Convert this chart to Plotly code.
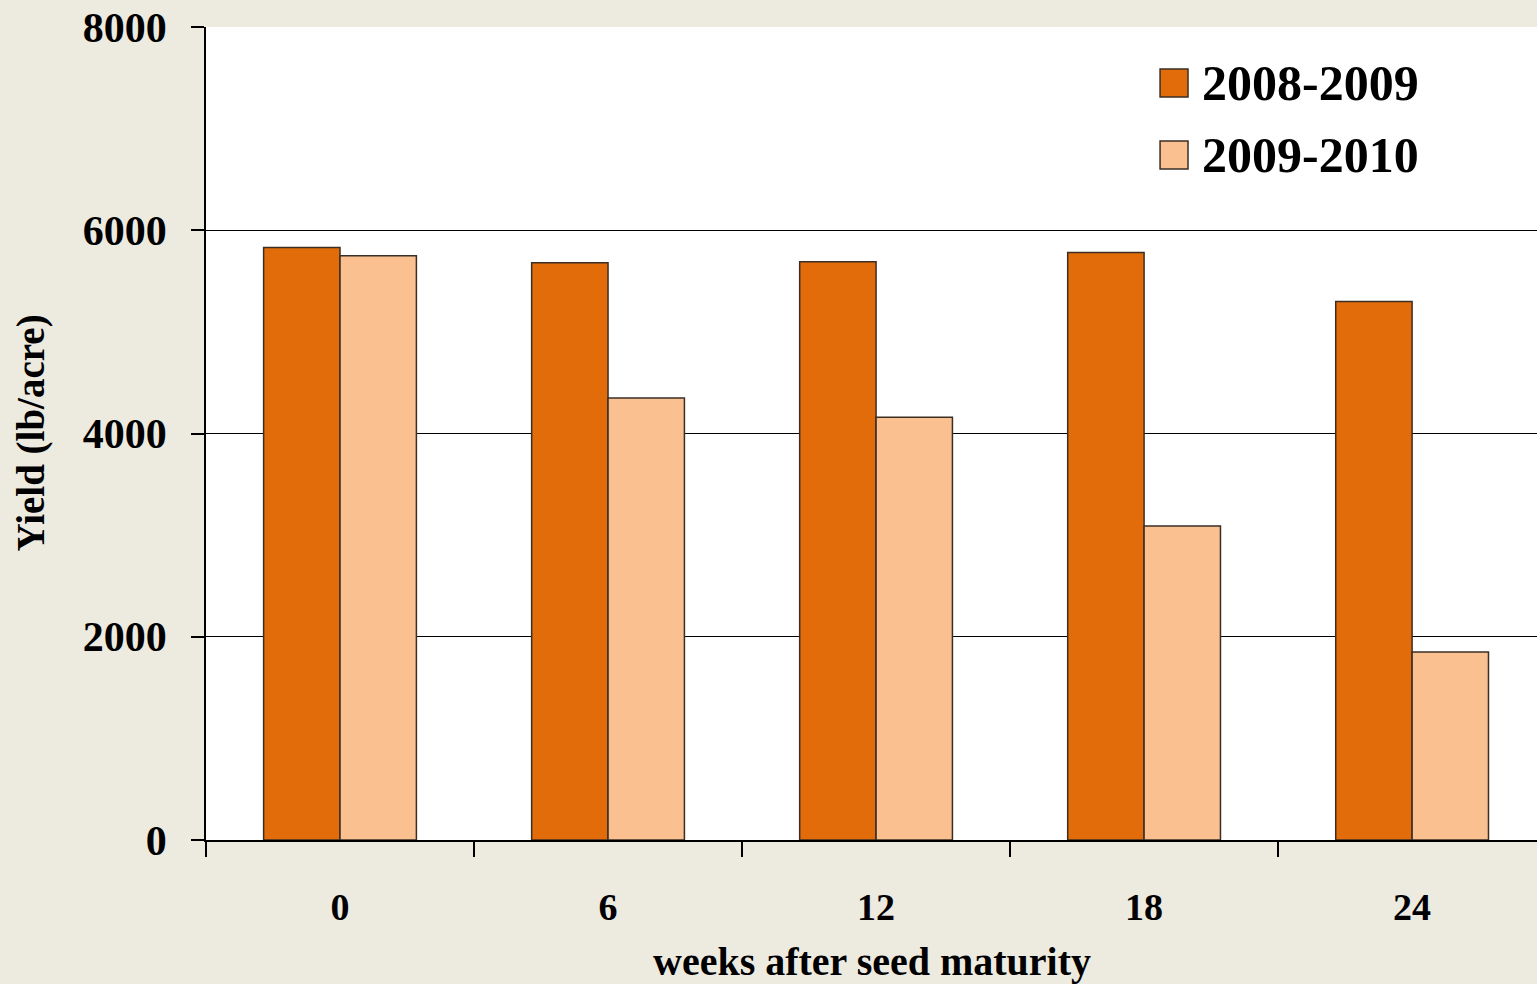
import plotly.graph_objects as go

# Yield by storage time after seed maturity
weeks = ["0", "6", "12", "18", "24"]
season_names = ["2008-2009", "2009-2010"]
yield_2008_2009 = [5830, 5680, 5690, 5780, 5300]
yield_2009_2010 = [5750, 4350, 4160, 3090, 1850]
y_ticks = [0, 2000, 4000, 6000, 8000]

bar_colors = ["#E36C0A", "#FAC090"]
bg = "#EDEAE0"
font_family = "Liberation Serif"

fig = go.Figure()
for name, vals, col in zip(season_names, [yield_2008_2009, yield_2009_2010], bar_colors):
    fig.add_trace(go.Bar(
        x=weeks, y=vals, name=name,
        marker=dict(color=col, line=dict(color="#3a2e25", width=1.5)),
        showlegend=False,
    ))

fig.update_layout(
    width=1537, height=984,
    margin=dict(l=206, r=0, t=27, b=144),
    paper_bgcolor=bg, plot_bgcolor="white",
    barmode="group", bargap=0.43, bargroupgap=0,
    font=dict(family=font_family, color="black"),
)

fig.update_xaxes(
    type="category", range=[-0.5, 4.466],
    tickson="boundaries", ticks="outside", ticklen=15, tickwidth=2, tickcolor="black",
    showline=True, linecolor="black", linewidth=2,
    tickfont=dict(size=38, family=font_family, weight="bold"),
    ticklabelstandoff=32,
    showgrid=False,
)
fig.update_yaxes(
    range=[0, 8000], tickvals=y_ticks, ticktext=[str(v) for v in y_ticks],
    ticks="outside", ticklen=13, tickwidth=2, tickcolor="black",
    showline=True, linecolor="black", linewidth=1.5,
    showgrid=True, gridcolor="black", gridwidth=1,
    zeroline=False,
    tickfont=dict(size=42, family=font_family, weight="bold"),
    ticklabelstandoff=16,
)

# Axis titles
fig.add_annotation(
    text="weeks after seed maturity", xref="paper", yref="paper",
    x=0.5, y=-0.150, xanchor="center", yanchor="middle", showarrow=False,
    font=dict(size=40, family=font_family, weight="bold"),
)
fig.add_annotation(
    text="Yield (lb/acre)", xref="paper", yref="paper",
    x=-0.1322, y=0.5, xanchor="center", yanchor="middle", textangle=-90, showarrow=False,
    font=dict(size=39, family=font_family, weight="bold"),
)

# Legend drawn as swatches with labels
legend_y = [0.9311, 0.8426]
sq_x0, sq_x1, half_h = 0.7168, 0.7378, 0.0172
for name, col, ly in zip(season_names, bar_colors, legend_y):
    fig.add_shape(
        type="rect", xref="paper", yref="paper",
        x0=sq_x0, x1=sq_x1, y0=ly - half_h, y1=ly + half_h,
        fillcolor=col, line=dict(color="#3a2e25", width=1.5),
    )
    fig.add_annotation(
        text=name, xref="paper", yref="paper",
        x=0.7468, y=ly, xanchor="left", yanchor="middle", showarrow=False,
        font=dict(size=50, family=font_family, weight="bold"),
    )

fig.write_html("out.html")
